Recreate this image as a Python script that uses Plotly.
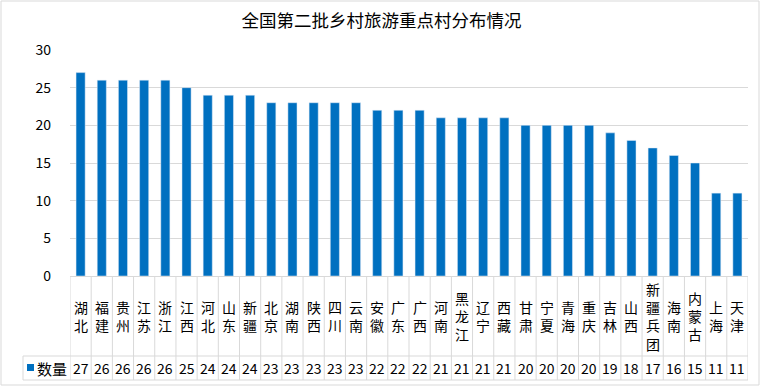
import plotly.graph_objects as go

provinces = ["湖北", "福建", "贵州", "江苏", "浙江", "江西", "河北", "山东", "新疆", "北京",
             "湖南", "陕西", "四川", "云南", "安徽", "广东", "广西", "河南", "黑龙江", "辽宁",
             "西藏", "甘肃", "宁夏", "青海", "重庆", "吉林", "山西", "新疆兵团", "海南", "内蒙古",
             "上海", "天津"]
counts = [27, 26, 26, 26, 26, 25, 24, 24, 24, 23, 23, 23, 23, 23, 22, 22, 22, 21, 21, 21,
          21, 20, 20, 20, 20, 19, 18, 17, 16, 15, 11, 11]
y_ticks = [0, 5, 10, 15, 20, 25, 30]
series_name = "数量"
title = "全国第二批乡村旅游重点村分布情况"

BLUE = "#0070C0"
GRID = "#D9D9D9"
FONT = "Noto Sans CJK SC"

W, H = 762, 387
L, R, T, B = 70, 14, 50, 111
plot_h = H - T - B


def py(pix):
    """Convert pixel y (from top) to paper coordinate."""
    return (H - B - pix) / plot_h


def px(pix):
    return (pix - L) / (W - L - R)


n = len(provinces)
x_idx = list(range(n))

fig = go.Figure()
fig.add_trace(go.Bar(x=x_idx, y=counts, marker_color=BLUE, name=series_name,
                     showlegend=False, hoverinfo="skip"))

shapes = []
annotations = []

row_top = py(276)
row_mid = py(356)
row_bot = py(380)

# vertical lines of table
for i in range(n + 1):
    shapes.append(dict(type="line", xref="x", yref="paper", x0=i - 0.5, x1=i - 0.5,
                       y0=row_top, y1=row_bot, line=dict(color=GRID, width=1)))
# legend cell left border
shapes.append(dict(type="line", xref="paper", yref="paper", x0=px(23), x1=px(23),
                   y0=row_mid, y1=row_bot, line=dict(color=GRID, width=1)))
# horizontal lines
for yy in (row_mid, row_bot):
    shapes.append(dict(type="line", xref="paper", yref="paper", x0=px(23), x1=1,
                       y0=yy, y1=yy, line=dict(color=GRID, width=1)))
# outer border
shapes.append(dict(type="rect", xref="paper", yref="paper", x0=px(1), x1=px(759),
                   y0=py(385), y1=py(1), line=dict(color=GRID, width=1)))
# legend square
shapes.append(dict(type="rect", xref="paper", yref="paper", x0=px(27), x1=px(34),
                   y0=py(371), y1=py(364), fillcolor=BLUE, line=dict(width=0)))

for i, (p, v) in enumerate(zip(provinces, counts)):
    annotations.append(dict(x=i, y=py(316), xref="x", yref="paper",
                            text="<br>".join(p), showarrow=False,
                            font=dict(family=FONT, size=14, color="#000000"),
                            xanchor="center", yanchor="middle"))
    annotations.append(dict(x=i, y=py(368), xref="x", yref="paper",
                            text=str(v), showarrow=False,
                            font=dict(family=FONT, size=14, color="#000000"),
                            xanchor="center", yanchor="middle"))

annotations.append(dict(x=px(35), y=py(368), xref="paper", yref="paper",
                        text=series_name, showarrow=False,
                        font=dict(family=FONT, size=15, color="#000000"),
                        xanchor="left", yanchor="middle"))

fig.update_layout(
    width=W, height=H,
    margin=dict(l=L, r=R, t=T, b=B),
    paper_bgcolor="white", plot_bgcolor="white",
    title=dict(text=title, x=381.5 / W, xref="container", y=1 - 21 / H, yref="container",
               xanchor="center", yanchor="middle",
               font=dict(family=FONT, size=17.5, color="#000000")),
    bargap=0.57,
    shapes=shapes,
    annotations=annotations,
    showlegend=False,
)
fig.update_xaxes(range=[-0.5, n - 0.5], showticklabels=False, showgrid=False,
                 zeroline=False, showline=True, linecolor=GRID, linewidth=1,
                 ticks="")
fig.update_yaxes(range=[0, 30], tickvals=y_ticks, showgrid=True, gridcolor=GRID,
                 gridwidth=1, zeroline=False, showline=False, ticks="",
                 ticklabelstandoff=18,
                 tickfont=dict(family=FONT, size=14, color="#000000"))

fig.write_html("out.html", config={"displayModeBar": False},
               post_script="document.body.style.margin='0';document.body.style.overflow='hidden';")
